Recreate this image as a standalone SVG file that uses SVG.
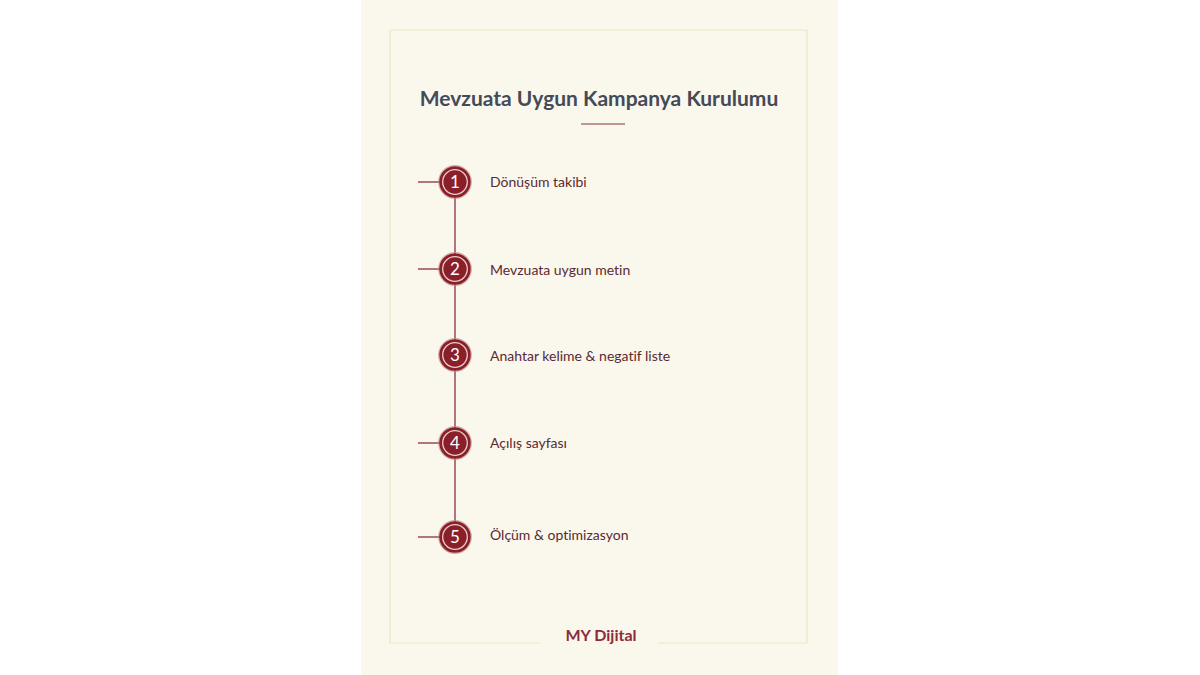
<svg xmlns="http://www.w3.org/2000/svg" width="1200" height="675" viewBox="0 0 1200 675">
<defs>
<style>
.lbl{font-family:Lato,"Liberation Sans",sans-serif;font-size:14px;fill:#5b2a30;font-variant-ligatures:none}
.num{font-family:Lato,"Liberation Sans",sans-serif;font-size:17px;fill:#ffffff;text-anchor:middle}
.halo{fill:none;stroke:#c58c90;stroke-width:1.2;opacity:0.7}
.dot{fill:#8a1f2a;stroke:#8a1f2a;stroke-width:1.5}
.ring{fill:none;stroke:#e8cfc8;stroke-width:1.3}
.tick{stroke:#9a4a55;stroke-width:1.5}
</style>
</defs>
<rect width="1200" height="675" fill="#ffffff"/>
<rect x="361" y="0" width="477" height="675" fill="#faf7ed"/>
<path d="M540 643 H390 V30 H807 V643 H658" fill="none" stroke="#efe6c6" stroke-width="1.2"/>
<text x="599" y="106" text-anchor="middle" font-family="Lato,'Liberation Sans',sans-serif" font-size="21" font-weight="bold" fill="#454a57">Mevzuata Uygun Kampanya Kurulumu</text>
<line x1="581" y1="124" x2="625" y2="124" stroke="#c29595" stroke-width="2"/>
<g id="connectors">
<line x1="455" y1="182" x2="455" y2="537" stroke="#9a4a55" stroke-width="1.5"/>
<line class="tick" x1="418" y1="182" x2="440" y2="182"/>
<line class="tick" x1="418" y1="269" x2="440" y2="269"/>
<line class="tick" x1="418" y1="443" x2="440" y2="443"/>
<line class="tick" x1="418" y1="537" x2="440" y2="537"/>
</g>
<g id="step1"><circle class="halo" cx="455" cy="182" r="16.3"/><circle class="dot" cx="455" cy="182" r="15"/><circle class="ring" cx="455" cy="182" r="12.3"/><text class="num" x="455" y="188">1</text><text class="lbl" x="490" y="187">Dönüşüm takibi</text></g>
<g id="step2"><circle class="halo" cx="455" cy="269" r="16.3"/><circle class="dot" cx="455" cy="269" r="15"/><circle class="ring" cx="455" cy="269" r="12.3"/><text class="num" x="455" y="275">2</text><text class="lbl" x="490" y="275">Mevzuata uygun metin</text></g>
<g id="step3"><circle class="halo" cx="455" cy="355" r="16.3"/><circle class="dot" cx="455" cy="355" r="15"/><circle class="ring" cx="455" cy="355" r="12.3"/><text class="num" x="455" y="361">3</text><text class="lbl" x="490" y="361">Anahtar kelime &amp; negatif liste</text></g>
<g id="step4"><circle class="halo" cx="455" cy="443" r="16.3"/><circle class="dot" cx="455" cy="443" r="15"/><circle class="ring" cx="455" cy="443" r="12.3"/><text class="num" x="455" y="449">4</text><text class="lbl" x="490" y="448">Açılış sayfası</text></g>
<g id="step5"><circle class="halo" cx="455" cy="537" r="16.3"/><circle class="dot" cx="455" cy="537" r="15"/><circle class="ring" cx="455" cy="537" r="12.3"/><text class="num" x="455" y="543">5</text><text class="lbl" x="490" y="540">Ölçüm &amp; optimizasyon</text></g>
<text x="601" y="641" text-anchor="middle" font-family="Lato,'Liberation Sans',sans-serif" font-size="16" font-weight="bold" fill="#8b2c36">MY Dijital</text>
</svg>
